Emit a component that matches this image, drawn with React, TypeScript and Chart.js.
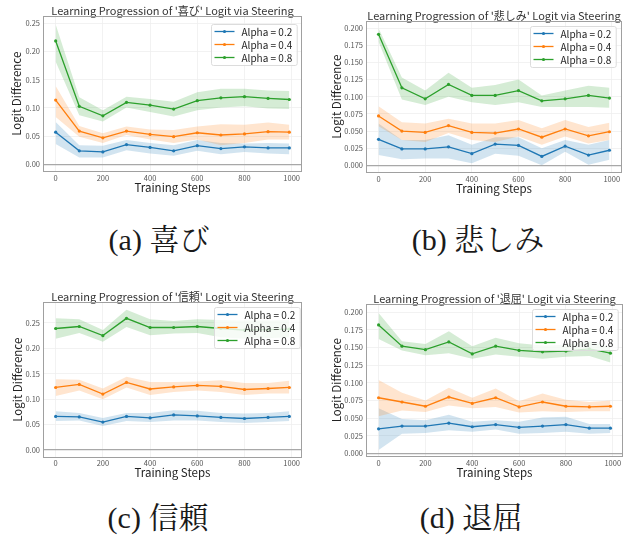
import React, { useEffect, useRef } from 'react';
import { Chart, registerables } from 'chart.js';

Chart.register(...registerables);

const FONT = '"Noto Sans CJK JP", "Noto Sans", sans-serif';
const CAPTION_FONT = '"Liberation Serif", "Noto Serif CJK JP", "Noto Sans CJK JP", serif';

// ---- shared data ----
const STEPS = [0, 100, 200, 300, 400, 500, 600, 700, 800, 900, 990];
const X_TICKS = [0, 200, 400, 600, 800, 1000];
const Y_TICKS_050 = [0, 0.05, 0.1, 0.15, 0.2, 0.25];
const Y_TICKS_025 = [0, 0.025, 0.05, 0.075, 0.1, 0.125, 0.15, 0.175, 0.2];
const ALPHA_LABELS = ['Alpha = 0.2', 'Alpha = 0.4', 'Alpha = 0.8'];
const LINE_COLORS = ['#1f77b4', '#ff7f0e', '#2ca02c'];
const BAND_COLORS = ['rgba(31,119,180,0.2)', 'rgba(255,127,14,0.2)', 'rgba(44,160,44,0.2)'];

const TITLES = [
  "Learning Progression of '喜び' Logit via Steering",
  "Learning Progression of '悲しみ' Logit via Steering",
  "Learning Progression of '信頼' Logit via Steering",
  "Learning Progression of '退屈' Logit via Steering",
];
const CAPTIONS = ['(a) 喜び', '(b) 悲しみ', '(c) 信頼', '(d) 退屈'];

// ---- (a) 喜び ----
const joyMean02 = [0.057, 0.024, 0.022, 0.035, 0.030, 0.024, 0.033, 0.028, 0.031, 0.029, 0.029];
const joyLow02 = [0.036, 0.012, 0.012, 0.025, 0.019, 0.015, 0.024, 0.018, 0.022, 0.019, 0.018];
const joyHigh02 = [0.075, 0.034, 0.033, 0.043, 0.038, 0.034, 0.043, 0.038, 0.037, 0.038, 0.037];
const joyMean04 = [0.114, 0.059, 0.047, 0.059, 0.053, 0.049, 0.056, 0.052, 0.054, 0.058, 0.057];
const joyLow04 = [0.084, 0.049, 0.038, 0.052, 0.044, 0.038, 0.044, 0.034, 0.038, 0.044, 0.044];
const joyHigh04 = [0.139, 0.068, 0.055, 0.067, 0.062, 0.061, 0.067, 0.071, 0.070, 0.074, 0.070];
const joyMean08 = [0.219, 0.103, 0.086, 0.110, 0.105, 0.098, 0.113, 0.118, 0.120, 0.117, 0.115];
const joyLow08 = [0.182, 0.087, 0.076, 0.101, 0.093, 0.085, 0.096, 0.101, 0.103, 0.099, 0.098];
const joyHigh08 = [0.248, 0.119, 0.096, 0.120, 0.116, 0.111, 0.128, 0.134, 0.134, 0.131, 0.130];

// ---- (b) 悲しみ ----
const sadMean02 = [0.038, 0.024, 0.024, 0.027, 0.017, 0.031, 0.029, 0.013, 0.028, 0.015, 0.022];
const sadLow02 = [0.015, 0.009, 0.010, 0.010, 0.003, 0.017, 0.014, 0.000, 0.020, 0.001, 0.008];
const sadHigh02 = [0.061, 0.037, 0.037, 0.044, 0.030, 0.041, 0.041, 0.025, 0.037, 0.030, 0.037];
const sadMean04 = [0.072, 0.050, 0.048, 0.058, 0.048, 0.047, 0.053, 0.041, 0.053, 0.043, 0.049];
const sadLow04 = [0.057, 0.037, 0.034, 0.047, 0.037, 0.034, 0.042, 0.030, 0.042, 0.032, 0.037];
const sadHigh04 = [0.086, 0.063, 0.061, 0.068, 0.061, 0.061, 0.066, 0.054, 0.066, 0.056, 0.062];
const sadMean08 = [0.191, 0.113, 0.097, 0.118, 0.102, 0.102, 0.109, 0.094, 0.097, 0.102, 0.098];
const sadLow08 = [0.180, 0.096, 0.088, 0.100, 0.092, 0.088, 0.092, 0.085, 0.085, 0.085, 0.084];
const sadHigh08 = [0.200, 0.128, 0.109, 0.135, 0.113, 0.117, 0.125, 0.102, 0.109, 0.116, 0.113];

// ---- (c) 信頼 ----
const trustMean02 = [0.066, 0.065, 0.055, 0.066, 0.063, 0.069, 0.067, 0.064, 0.062, 0.064, 0.066];
const trustLow02 = [0.057, 0.058, 0.047, 0.057, 0.055, 0.058, 0.058, 0.055, 0.053, 0.055, 0.057];
const trustHigh02 = [0.076, 0.073, 0.063, 0.073, 0.073, 0.078, 0.077, 0.073, 0.072, 0.073, 0.076];
const trustMean04 = [0.123, 0.129, 0.110, 0.133, 0.120, 0.124, 0.127, 0.125, 0.119, 0.121, 0.123];
const trustLow04 = [0.106, 0.117, 0.100, 0.123, 0.108, 0.114, 0.117, 0.114, 0.108, 0.111, 0.111];
const trustHigh04 = [0.139, 0.138, 0.121, 0.144, 0.134, 0.134, 0.135, 0.137, 0.132, 0.132, 0.136];
const trustMean08 = [0.239, 0.243, 0.225, 0.259, 0.241, 0.241, 0.243, 0.239, 0.236, 0.237, 0.238];
const trustLow08 = [0.219, 0.230, 0.213, 0.242, 0.226, 0.229, 0.230, 0.222, 0.219, 0.220, 0.222];
const trustHigh08 = [0.259, 0.257, 0.236, 0.276, 0.257, 0.254, 0.257, 0.256, 0.255, 0.255, 0.256];

// ---- (d) 退屈 ----
const boredMean02 = [0.035, 0.039, 0.039, 0.043, 0.038, 0.041, 0.037, 0.039, 0.041, 0.036, 0.036];
const boredLow02 = [0.005, 0.028, 0.029, 0.033, 0.031, 0.034, 0.028, 0.029, 0.031, 0.028, 0.029];
const boredHigh02 = [0.064, 0.049, 0.047, 0.055, 0.045, 0.047, 0.045, 0.051, 0.052, 0.042, 0.042];
const boredMean04 = [0.079, 0.073, 0.067, 0.080, 0.071, 0.079, 0.066, 0.073, 0.067, 0.066, 0.067];
const boredLow04 = [0.053, 0.061, 0.059, 0.068, 0.064, 0.066, 0.058, 0.060, 0.059, 0.060, 0.060];
const boredHigh04 = [0.104, 0.086, 0.075, 0.093, 0.079, 0.092, 0.074, 0.085, 0.076, 0.073, 0.075];
const boredMean08 = [0.182, 0.152, 0.147, 0.158, 0.141, 0.152, 0.146, 0.144, 0.145, 0.148, 0.142];
const boredLow08 = [0.162, 0.146, 0.139, 0.142, 0.134, 0.140, 0.137, 0.134, 0.137, 0.138, 0.129];
const boredHigh08 = [0.199, 0.159, 0.155, 0.173, 0.152, 0.164, 0.156, 0.153, 0.154, 0.159, 0.151];

type Layout = {
  left: number; top: number; width: number; height: number;
  yAxisWidth: number; xAxisHeight: number; padRight: number;
  titlePad: number; yTitlePad: number; xTickPad: number; xTitlePad: number;
  legendRight: number; legendTop: number;
};

type PanelProps = {
  title: string;
  means: number[][];
  lows: number[][];
  highs: number[][];
  yTicks: number[];
  yMin: number;
  yMax: number;
  decimals: number;
  layout: Layout;
};

function makeFramePlugin() {
  return {
    id: 'frame',
    afterDatasetsDraw(chart: any) {
      const { ctx, chartArea } = chart;
      const l = Math.round(chartArea.left) - 0.5;
      const t = Math.round(chartArea.top) - 0.5;
      const r = Math.round(chartArea.right) + 0.5;
      const b = Math.round(chartArea.bottom) + 0.5;
      ctx.save();
      ctx.strokeStyle = '#a0a0a0';
      ctx.lineWidth = 1;
      ctx.strokeRect(l, t, r - l, b - t);
      ctx.restore();
    },
  };
}

function makeLegendPlugin(offRight: number, offTop: number) {
  return {
    id: 'insideLegend',
    afterDraw(chart: any) {
      const { ctx, chartArea } = chart;
      ctx.save();
      ctx.font = `10px ${FONT}`;
      const textW = Math.max(...ALPHA_LABELS.map((s) => ctx.measureText(s).width));
      const padX = 3;
      const sample = 20;
      const gap = 7;
      const rowH = 13;
      const w = padX + sample + gap + textW + 5;
      const h = rowH * ALPHA_LABELS.length + 2;
      const x = Math.round(chartArea.right - offRight - w) + 0.5;
      const y = Math.round(chartArea.top + offTop) + 0.5;
      const rad = 2;
      ctx.beginPath();
      ctx.moveTo(x + rad, y);
      ctx.lineTo(x + w - rad, y);
      ctx.quadraticCurveTo(x + w, y, x + w, y + rad);
      ctx.lineTo(x + w, y + h - rad);
      ctx.quadraticCurveTo(x + w, y + h, x + w - rad, y + h);
      ctx.lineTo(x + rad, y + h);
      ctx.quadraticCurveTo(x, y + h, x, y + h - rad);
      ctx.lineTo(x, y + rad);
      ctx.quadraticCurveTo(x, y, x + rad, y);
      ctx.closePath();
      ctx.fillStyle = 'rgba(255,255,255,0.8)';
      ctx.fill();
      ctx.strokeStyle = '#dcdcdc';
      ctx.lineWidth = 1;
      ctx.stroke();
      ALPHA_LABELS.forEach((label, i) => {
        const cy = y + 7 + i * rowH;
        ctx.strokeStyle = LINE_COLORS[i];
        ctx.lineWidth = 1.3;
        ctx.beginPath();
        ctx.moveTo(x + padX, cy);
        ctx.lineTo(x + padX + sample, cy);
        ctx.stroke();
        ctx.fillStyle = LINE_COLORS[i];
        ctx.beginPath();
        ctx.arc(x + padX + sample / 2, cy, 1.6, 0, Math.PI * 2);
        ctx.fill();
        ctx.fillStyle = '#262626';
        ctx.textBaseline = 'middle';
        ctx.textAlign = 'left';
        ctx.fillText(label, x + padX + sample + gap, cy + 0.5);
      });
      ctx.restore();
    },
  };
}

function Panel(props: PanelProps) {
  const ref = useRef<HTMLCanvasElement>(null);
  const { layout } = props;
  useEffect(() => {
    if (!ref.current) return;
    const datasets: any[] = [];
    for (let i = 0; i < 3; i++) {
      datasets.push({
        data: STEPS.map((s, j) => ({ x: s, y: props.highs[i][j] })),
        borderWidth: 0,
        pointRadius: 0,
        fill: '+1',
        backgroundColor: BAND_COLORS[i],
        borderColor: 'rgba(0,0,0,0)',
        order: 20 - i,
      });
      datasets.push({
        data: STEPS.map((s, j) => ({ x: s, y: props.lows[i][j] })),
        borderWidth: 0,
        pointRadius: 0,
        fill: false,
        borderColor: 'rgba(0,0,0,0)',
        order: 20 - i,
      });
      datasets.push({
        data: STEPS.map((s, j) => ({ x: s, y: props.means[i][j] })),
        borderColor: LINE_COLORS[i],
        backgroundColor: LINE_COLORS[i],
        borderWidth: 1.3,
        pointRadius: 1.6,
        pointBorderWidth: 0,
        pointBackgroundColor: LINE_COLORS[i],
        fill: false,
        tension: 0,
        order: 5 - i,
      });
    }
    const chart = new Chart(ref.current, {
      type: 'line',
      data: { datasets },
      plugins: [makeFramePlugin(), makeLegendPlugin(layout.legendRight, layout.legendTop)],
      options: {
        animation: false,
        responsive: false,
        devicePixelRatio: 1,
        events: [],
        layout: { padding: { left: 0, right: layout.padRight, top: 0, bottom: 0 } },
        plugins: {
          legend: { display: false },
          tooltip: { enabled: false },
          title: {
            display: true,
            text: props.title,
            fullSize: false,
            color: '#333333',
            font: { family: FONT, size: 11, weight: 'normal', lineHeight: 1 },
            padding: { top: layout.titlePad, bottom: 0 },
          },
        },
        scales: {
          x: {
            type: 'linear',
            min: -49.5,
            max: 1039.5,
            afterBuildTicks: (s: any) => {
              s.ticks = X_TICKS.map((v) => ({ value: v }));
            },
            afterFit: (s: any) => {
              s.height = layout.xAxisHeight;
            },
            ticks: {
              font: { family: FONT, size: 7.5 },
              color: '#555555',
              padding: layout.xTickPad,
              maxRotation: 0,
              autoSkip: false,
              callback: (v: any) => String(v),
            },
            grid: { color: '#efefef', lineWidth: 0.8, drawTicks: false },
            border: { display: false },
            title: {
              display: true,
              text: 'Training Steps',
              color: '#222222',
              font: { family: FONT, size: 11.5 },
              padding: { top: 0, bottom: layout.xTitlePad },
            },
          },
          y: {
            type: 'linear',
            min: props.yMin,
            max: props.yMax,
            afterBuildTicks: (s: any) => {
              s.ticks = props.yTicks.map((v) => ({ value: v }));
            },
            afterFit: (s: any) => {
              s.width = layout.yAxisWidth;
            },
            ticks: {
              font: { family: FONT, size: 7.5 },
              color: '#555555',
              padding: 4,
              autoSkip: false,
              callback: (v: any) => Number(v).toFixed(props.decimals),
            },
            grid: {
              drawTicks: false,
              color: (c: any) => (c.tick && c.tick.value === 0 ? '#a8a8a8' : '#efefef'),
              lineWidth: (c: any) => (c.tick && c.tick.value === 0 ? 1.2 : 0.8),
            },
            border: { display: false },
            title: {
              display: true,
              text: 'Logit Difference',
              color: '#222222',
              font: { family: FONT, size: 11.5 },
              padding: { top: layout.yTitlePad, bottom: 0 },
            },
          },
        },
      } as any,
    });
    return () => chart.destroy();
  }, []);
  return (
    <canvas
      ref={ref}
      width={layout.width}
      height={layout.height}
      style={{ position: 'absolute', left: layout.left, top: layout.top, width: layout.width, height: layout.height }}
    />
  );
}

function Caption({ text, cx, cy }: { text: string; cx: number; cy: number }) {
  return (
    <div
      style={{
        position: 'absolute',
        left: cx - 150,
        top: cy - 20,
        width: 300,
        height: 40,
        lineHeight: '40px',
        textAlign: 'center',
        fontFamily: CAPTION_FONT,
        fontSize: 30,
        color: '#1a1a1a',
        whiteSpace: 'nowrap',
      }}
    >
      {text}
    </div>
  );
}

export default function App() {
  return (
    <div style={{ position: 'absolute', left: 0, top: 0, width: 627, height: 536, background: '#fff', overflow: 'hidden' }}>
      <Panel
        title={TITLES[0]}
        means={[joyMean02, joyMean04, joyMean08]}
        lows={[joyLow02, joyLow04, joyLow08]}
        highs={[joyHigh02, joyHigh04, joyHigh08]}
        yTicks={Y_TICKS_050}
        yMin={-0.0119}
        yMax={0.2624}
        decimals={2}
        layout={{ left: 0, top: 0, width: 310, height: 200, yAxisWidth: 44, xAxisHeight: 29, padRight: 9, titlePad: 5.5, yTitlePad: 10, xTickPad: 2.8, xTitlePad: 5, legendRight: 4, legendTop: 7 }}
      />
      <Panel
        title={TITLES[1]}
        means={[sadMean02, sadMean04, sadMean08]}
        lows={[sadLow02, sadLow04, sadLow08]}
        highs={[sadHigh02, sadHigh04, sadHigh08]}
        yTicks={Y_TICKS_025}
        yMin={-0.0097}
        yMax={0.2097}
        decimals={3}
        layout={{ left: 310, top: 0, width: 317, height: 200, yAxisWidth: 57, xAxisHeight: 28, padRight: 6, titlePad: 10.5, yTitlePad: 20, xTickPad: 2.5, xTitlePad: 4.8, legendRight: 5, legendTop: 4 }}
      />
      <Panel
        title={TITLES[2]}
        means={[trustMean02, trustMean04, trustMean08]}
        lows={[trustLow02, trustLow04, trustLow08]}
        highs={[trustHigh02, trustHigh04, trustHigh08]}
        yTicks={Y_TICKS_050}
        yMin={-0.0138}
        yMax={0.2902}
        decimals={2}
        layout={{ left: 0, top: 280, width: 310, height: 200, yAxisWidth: 44, xAxisHeight: 23, padRight: 9, titlePad: 11.5, yTitlePad: 11, xTickPad: 1.5, xTitlePad: 0.5, legendRight: 1, legendTop: 4.5 }}
      />
      <Panel
        title={TITLES[3]}
        means={[boredMean02, boredMean04, boredMean08]}
        lows={[boredLow02, boredLow04, boredLow08]}
        highs={[boredHigh02, boredHigh04, boredHigh08]}
        yTicks={Y_TICKS_025}
        yMin={-0.0034}
        yMax={0.2109}
        decimals={3}
        layout={{ left: 310, top: 280, width: 317, height: 200, yAxisWidth: 57, xAxisHeight: 24, padRight: 5, titlePad: 13.5, yTitlePad: 20, xTickPad: 3, xTitlePad: 0.5, legendRight: 4, legendTop: 4 }}
      />
      <Caption text={CAPTIONS[0]} cx={159} cy={240} />
      <Caption text={CAPTIONS[1]} cx={478} cy={240} />
      <Caption text={CAPTIONS[2]} cx={158} cy={518} />
      <Caption text={CAPTIONS[3]} cx={471} cy={518} />
    </div>
  );
}
